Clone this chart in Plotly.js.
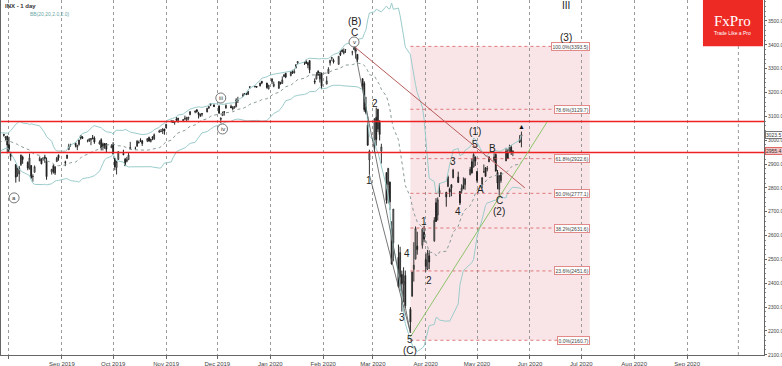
<!DOCTYPE html>
<html><head><meta charset="utf-8">
<script src="https://cdn.plot.ly/plotly-3.0.1.min.js"></script>
<style>html,body{margin:0;padding:0;background:#fff;}#chart{width:782px;height:366px;}</style>
</head><body><div id="chart"></div>
<script>
// ---- Data (INX daily) ----
const dates = [
'2019-06-28',
'2019-07-01','2019-07-02','2019-07-03','2019-07-05','2019-07-08','2019-07-09','2019-07-10','2019-07-11','2019-07-12','2019-07-15','2019-07-16','2019-07-17','2019-07-18','2019-07-19','2019-07-22','2019-07-23','2019-07-24','2019-07-25','2019-07-26','2019-07-29','2019-07-30','2019-07-31',
'2019-08-01','2019-08-02','2019-08-05','2019-08-06','2019-08-07','2019-08-08','2019-08-09','2019-08-12','2019-08-13','2019-08-14','2019-08-15','2019-08-16','2019-08-19','2019-08-20','2019-08-21','2019-08-22','2019-08-23','2019-08-26','2019-08-27','2019-08-28','2019-08-29','2019-08-30',
'2019-09-03','2019-09-04','2019-09-05','2019-09-06','2019-09-09','2019-09-10','2019-09-11','2019-09-12','2019-09-13','2019-09-16','2019-09-17','2019-09-18','2019-09-19','2019-09-20','2019-09-23','2019-09-24','2019-09-25','2019-09-26','2019-09-27','2019-09-30',
'2019-10-01','2019-10-02','2019-10-03','2019-10-04','2019-10-07','2019-10-08','2019-10-09','2019-10-10','2019-10-11','2019-10-14','2019-10-15','2019-10-16','2019-10-17','2019-10-18','2019-10-21','2019-10-22','2019-10-23','2019-10-24','2019-10-25','2019-10-28','2019-10-29','2019-10-30','2019-10-31',
'2019-11-01','2019-11-04','2019-11-05','2019-11-06','2019-11-07','2019-11-08','2019-11-11','2019-11-12','2019-11-13','2019-11-14','2019-11-15','2019-11-18','2019-11-19','2019-11-20','2019-11-21','2019-11-22','2019-11-25','2019-11-26','2019-11-27','2019-11-29',
'2019-12-02','2019-12-03','2019-12-04','2019-12-05','2019-12-06','2019-12-09','2019-12-10','2019-12-11','2019-12-12','2019-12-13','2019-12-16','2019-12-17','2019-12-18','2019-12-19','2019-12-20','2019-12-23','2019-12-24','2019-12-26','2019-12-27','2019-12-30','2019-12-31',
'2020-01-02','2020-01-03','2020-01-06','2020-01-07','2020-01-08','2020-01-09','2020-01-10','2020-01-13','2020-01-14','2020-01-15','2020-01-16','2020-01-17','2020-01-21','2020-01-22','2020-01-23','2020-01-24','2020-01-27','2020-01-28','2020-01-29','2020-01-30','2020-01-31',
'2020-02-03','2020-02-04','2020-02-05','2020-02-06','2020-02-07','2020-02-10','2020-02-11','2020-02-12','2020-02-13','2020-02-14','2020-02-18','2020-02-19','2020-02-20','2020-02-21','2020-02-24','2020-02-25','2020-02-26','2020-02-27','2020-02-28',
'2020-03-02','2020-03-03','2020-03-04','2020-03-05','2020-03-06','2020-03-09','2020-03-10','2020-03-11','2020-03-12','2020-03-13','2020-03-16','2020-03-17','2020-03-18','2020-03-19','2020-03-20','2020-03-23','2020-03-24','2020-03-25','2020-03-26','2020-03-27','2020-03-30','2020-03-31',
'2020-04-01','2020-04-02','2020-04-03','2020-04-06','2020-04-07','2020-04-08','2020-04-09','2020-04-13','2020-04-14','2020-04-15','2020-04-16','2020-04-17','2020-04-20','2020-04-21','2020-04-22','2020-04-23','2020-04-24','2020-04-27','2020-04-28','2020-04-29','2020-04-30',
'2020-05-01','2020-05-04','2020-05-05','2020-05-06','2020-05-07','2020-05-08','2020-05-11','2020-05-12','2020-05-13','2020-05-14','2020-05-15','2020-05-18','2020-05-19','2020-05-20','2020-05-21','2020-05-22','2020-05-26','2020-05-27'
];
const open = [
2932, 2971,2965,2978,2984,2979,2966,2990,2999,3003,3018,3012,3006,2978,3004,2982,2995,2999,3016,3013,3024,3008,3017,
2981,2943,2898,2862,2858,2897,2930,2907,2880,2894,2847,2865,2913,2920,2922,2930,2912,2866,2893,2862,2910,2937,
2909,2924,2960,2980,2989,2971,2982,3019,3013,2997,2996,3002,3010,3009,2984,3002,2969,2986,2985,2968,
2984,2925,2885,2919,2945,2920,2911,2918,2964,2966,2974,2990,3001,2997,2997,3011,2994,3014,3004,3033,3036,3039,3047,
3051,3078,3080,3075,3088,3082,3081,3090,3084,3091,3107,3118,3128,3114,3109,3112,3118,3135,3146,3148,
3144,3087,3103,3120,3134,3141,3136,3135,3141,3167,3183,3195,3196,3192,3224,3227,3225,3227,3247,3240,3215,
3245,3226,3218,3242,3238,3267,3281,3271,3285,3282,3303,3324,3321,3330,3315,3334,3248,3256,3289,3256,3282,
3235,3280,3324,3344,3335,3318,3366,3370,3365,3378,3369,3380,3380,3360,3258,3238,3139,3063,2917,
2975,3096,3046,3075,2954,2864,2814,2825,2630,2569,2509,2426,2437,2394,2432,2291,2345,2458,2501,2556,2559,2614,
2499,2459,2515,2578,2738,2686,2776,2782,2805,2796,2813,2842,2846,2785,2788,2810,2813,2855,2910,2887,2930,
2869,2815,2868,2884,2879,2909,2915,2940,2865,2794,2830,2913,2948,2953,2970,2948,3004,3016
];
const high = [
2943, 2978,2973,2996,2994,2981,2981,3003,3003,3014,3018,3016,3006,2999,3006,2990,3005,3020,3017,3028,3027,3017,3018,
3014,2945,2898,2885,2892,2939,2935,2911,2944,2894,2857,2894,2932,2924,2928,2939,2927,2879,2899,2891,2930,2940,
2914,2938,2985,2985,2989,2980,3001,3022,3017,3003,3006,3008,3022,3016,2999,3008,2990,2987,2988,2983,
2992,2925,2911,2953,2960,2926,2930,2948,2993,2973,3000,2998,3008,3001,3007,3015,3005,3016,3028,3044,3047,3050,3047,
3067,3085,3084,3078,3097,3093,3088,3103,3098,3097,3121,3124,3128,3119,3111,3113,3134,3142,3154,3150,
3144,3095,3120,3120,3150,3149,3143,3143,3176,3182,3197,3198,3199,3206,3226,3227,3226,3240,3248,3240,3231,
3258,3246,3247,3245,3267,3275,3283,3288,3295,3298,3317,3330,3329,3338,3326,3334,3259,3285,3293,3286,3282,
3268,3306,3337,3348,3342,3352,3376,3381,3385,3380,3375,3393.5,3389,3361,3260,3247,3182,3098,2960,
3091,3137,3131,3084,2985,2864,2883,2825,2660,2711,2562,2553,2453,2467,2453,2300,2449,2572,2638,2616,2632,2641,
2522,2540,2538,2677,2757,2760,2819,2782,2852,2801,2815,2880,2868,2786,2815,2844,2842,2888,2922,2945,2931,
2869,2844,2898,2887,2892,2932,2945,2945,2875,2852,2865,2968,2964,2981,2979,2957,3021,3036
];
const low = [
2929, 2952,2955,2976,2967,2966,2964,2984,2986,3002,3010,3003,2984,2975,2975,2976,2988,2996,2997,3013,3015,3000,2945,
2946,2914,2822,2847,2826,2892,2901,2874,2877,2839,2826,2865,2913,2899,2914,2905,2834,2856,2860,2854,2910,2914,
2891,2921,2960,2973,2970,2958,2977,3002,3005,2991,2993,2979,3003,2985,2982,2957,2957,2964,2946,2968,
2938,2874,2856,2918,2937,2893,2907,2917,2964,2960,2974,2986,2992,2976,2992,2995,2991,3000,3002,3032,3034,3026,3023,
3051,3074,3072,3065,3080,3073,3076,3084,3078,3083,3105,3113,3115,3091,3097,3100,3118,3131,3143,3139,
3110,3071,3103,3103,3134,3135,3125,3133,3138,3156,3183,3191,3191,3191,3216,3222,3220,3227,3235,3216,3213,
3235,3222,3215,3233,3236,3264,3260,3268,3278,3280,3302,3318,3316,3320,3302,3281,3235,3256,3271,3242,3214,
3235,3280,3313,3333,3322,3317,3353,3369,3360,3366,3356,3379,3342,3328,3215,3119,3108,2977,2855,
2946,2977,3034,2999,2902,2734,2735,2708,2478,2492,2381,2367,2281,2320,2296,2192,2345,2407,2501,2520,2545,2572,
2448,2455,2459,2574,2657,2663,2762,2721,2805,2761,2765,2842,2821,2728,2776,2794,2792,2853,2860,2887,2892,
2822,2798,2862,2848,2869,2909,2909,2870,2794,2767,2821,2913,2922,2953,2938,2933,2988,2970
];
const close = [
2942, 2964,2973,2996,2990,2976,2980,2993,3000,3014,3014,3004,2984,2995,2977,2985,3005,3020,3004,3026,3021,3013,2980,
2954,2932,2845,2882,2884,2938,2919,2883,2926,2841,2848,2889,2924,2901,2924,2923,2847,2878,2869,2888,2925,2926,
2906,2938,2976,2979,2978,2979,3001,3010,3007,2998,3006,3007,3007,2992,2992,2967,2985,2978,2962,2977,
2940,2888,2911,2952,2939,2893,2919,2938,2970,2966,2996,2990,2998,2986,3007,2996,3005,3010,3023,3039,3037,3047,3038,
3067,3078,3075,3077,3085,3093,3087,3092,3094,3097,3120,3122,3120,3108,3104,3110,3134,3141,3154,3141,
3114,3093,3113,3117,3146,3136,3133,3142,3169,3169,3191,3193,3191,3205,3221,3224,3223,3240,3240,3221,3231,
3258,3235,3246,3237,3253,3275,3265,3288,3283,3289,3317,3330,3321,3322,3326,3295,3244,3276,3273,3284,3226,
3249,3298,3335,3346,3328,3352,3358,3379,3374,3380,3370,3386,3373,3338,3226,3128,3116,2979,2954,
3090,3003,3130,3024,2972,2747,2882,2741,2481,2711,2386,2529,2398,2409,2305,2237,2447,2476,2630,2541,2627,2585,
2471,2527,2489,2664,2659,2750,2790,2762,2846,2783,2800,2875,2823,2737,2799,2798,2837,2878,2863,2940,2912,
2831,2843,2868,2848,2881,2930,2930,2870,2820,2852,2864,2954,2923,2972,2949,2955,2992,3023.5
];
// Month ticks shown on the time axis
const monthTicks = ['2019-08-01','2019-09-01','2019-10-01','2019-11-01','2019-12-01','2020-01-01','2020-02-01','2020-03-01','2020-04-01','2020-05-01','2020-06-01','2020-07-01','2020-08-01','2020-09-01'];
const monthLabels = ['Aug 2019','Sep 2019','Oct 2019','Nov 2019','Dec 2019','Jan 2020','Feb 2020','Mar 2020','Apr 2020','May 2020','Jun 2020','Jul 2020','Aug 2020','Sep 2020'];
// Fibonacci retracement levels (labels as read)
const fibPct = ['100.0%','78.6%','61.8%','50.0%','38.2%','23.6%','0.0%'];
const fibVal = [3393.5, 3129.7, 2922.6, 2777.1, 2631.6, 2451.6, 2160.7];
// Horizontal resistance/support lines
const hLevels = [3078, 2948];
// Right-axis price tags
const tagVals = [3023.5, 2955.4];
// Elliott wave labels: text, date, price
const waveText  = ['(B)','C','2','1','3','4','5','(C)','1','2','3','4','5','(1)','A','B','C','(2)','(3)','III'];
const waveDate  = ['2020-02-19','2020-02-19','2020-03-02','2020-02-28','2020-03-18','2020-03-21','2020-03-23','2020-03-23','2020-03-31','2020-04-03','2020-04-17','2020-04-20','2020-04-30','2020-04-30','2020-05-03','2020-05-10','2020-05-14','2020-05-14','2020-06-22','2020-06-22'];
const wavePrice = [3496,3450,3156,2833,2255,2523,2166,2116,2657,2410,2909,2703,2984,3037,2795,2967,2749,2699,3429,3565];
// circled minor-degree labels
const circText  = ['v','iii','iv','a'];
const circDate  = ['2020-02-19','2019-12-03','2019-12-04','2019-08-04'];
const circPrice = [3412,3177,3047,2758];

if ([open,high,low,close].some(a => a.length !== dates.length)) console.error('length mismatch', dates.length, open.length, high.length, low.length, close.length);

// Bollinger bands (20, 2.0) computed from the closes, as the original indicator does
function bollinger(c, n, k) {
  const mid = [], up = [], lo = [];
  for (let i = 0; i < c.length; i++) {
    if (i < n - 1) { mid.push(null); up.push(null); lo.push(null); continue; }
    let s = 0; for (let j = i - n + 1; j <= i; j++) s += c[j];
    const m = s / n;
    let v = 0; for (let j = i - n + 1; j <= i; j++) v += (c[j] - m) * (c[j] - m);
    const sd = Math.sqrt(v / n);
    mid.push(m); up.push(m + k * sd); lo.push(m - k * sd);
  }
  return {mid, up, lo};
}
const bb = bollinger(close, 20, 2);

const traces = [
  {type:'scatter', mode:'lines', x:dates, y:bb.up, line:{color:'#9ccccc', width:1}, hoverinfo:'skip'},
  {type:'scatter', mode:'lines', x:dates, y:bb.lo, line:{color:'#9ccccc', width:1}, hoverinfo:'skip'},
  {type:'scatter', mode:'lines', x:dates, y:bb.mid, line:{color:'#8a9a9a', width:1, dash:'dot'}, hoverinfo:'skip'},
  {type:'candlestick', x:dates, open:open, high:high, low:low, close:close, whiskerwidth:0,
   increasing:{line:{color:'#333', width:1}, fillcolor:'#ffffff'},
   decreasing:{line:{color:'#222', width:1}, fillcolor:'#000000'}, hoverinfo:'skip'}
];

const FONT = 'Liberation Sans, Arial, sans-serif';
const shapes = [];
const annotations = [];

// October 2020 grid line (no label in the reference)
shapes.push({type:'line', xref:'x', yref:'paper', x0:'2020-10-01', x1:'2020-10-01', y0:0, y1:1, line:{color:'#9a9a9a', width:1, dash:'dot'}, layer:'below'});

// Fibonacci box
shapes.push({type:'rect', xref:'x', yref:'y', x0:'2020-03-23', x1:'2020-07-06', y0:fibVal[fibVal.length-1], y1:fibVal[0],
  fillcolor:'rgba(232,150,158,0.25)', line:{width:0}, layer:'below'});
fibVal.forEach((v, i) => {
  shapes.push({type:'line', xref:'x', yref:'y', x0:'2020-03-23', x1:'2020-06-19', y0:v, y1:v,
    line:{color:'rgba(215,80,80,0.75)', width:1, dash:'dot'}});
  annotations.push({xref:'x', yref:'y', x:'2020-07-06', y:v, xanchor:'right', yanchor:'middle', showarrow:false,
    text:fibPct[i] + '(' + v.toFixed(1) + ')', font:{family:FONT, size:5, color:'#444'},
    bgcolor:'#fff', bordercolor:'#e28a8a', borderwidth:1, borderpad:0.5});
});
// Horizontal red lines
hLevels.forEach(v => shapes.push({type:'line', xref:'paper', yref:'y', x0:0, x1:1, y0:v, y1:v, line:{color:'#ee2222', width:1.5}}));
// Trend lines
shapes.push({type:'line', xref:'x', yref:'y', x0:'2020-02-19', y0:3393.5, x1:'2020-05-29', y1:2800, line:{color:'#b85a5a', width:1}});
shapes.push({type:'line', xref:'x', yref:'y', x0:'2020-03-23', y0:2175, x1:'2020-06-11', y1:3076, line:{color:'#8cc46a', width:1}});
shapes.push({type:'line', xref:'x', yref:'y', x0:'2020-02-19', y0:3393.5, x1:'2020-03-23', y1:2192, line:{color:'#555', width:0.8}});
shapes.push({type:'line', xref:'x', yref:'y', x0:'2020-02-28', y0:2855, x1:'2020-03-23', y1:2192, line:{color:'#555', width:0.8}});

// Wave labels
waveText.forEach((t, i) => annotations.push({xref:'x', yref:'y', x:waveDate[i], y:wavePrice[i], text:t, showarrow:false,
  xanchor:'center', yanchor:'middle', font:{family:FONT, size:10, color:'#222'}}));
// Circled labels
circText.forEach((t, i) => {
  shapes.push({type:'circle', xref:'x', yref:'y', xsizemode:'pixel', ysizemode:'pixel', xanchor:circDate[i], yanchor:circPrice[i],
    x0:-5, x1:5, y0:-5, y1:5, line:{color:'#555', width:0.8}, fillcolor:'#fff'});
  annotations.push({xref:'x', yref:'y', x:circDate[i], y:circPrice[i], text:t, showarrow:false, xanchor:'center', yanchor:'middle',
    font:{family:FONT, size:6, color:'#333'}});
});
// last-bar arrow
annotations.push({xref:'x', yref:'y', x:'2020-05-27', y:3058, text:'▲', showarrow:false, xanchor:'center', yanchor:'middle',
  font:{family:FONT, size:7, color:'#111'}});

// price tags on right axis
annotations.push({xref:'paper', yref:'y', x:1, y:tagVals[0], xanchor:'left', yanchor:'middle', xshift:1, showarrow:false,
  text:tagVals[0].toFixed(1), font:{family:FONT, size:5, color:'#333'}, bgcolor:'#fff', bordercolor:'#777', borderwidth:1, borderpad:0});
annotations.push({xref:'paper', yref:'y', x:1, y:tagVals[1], xanchor:'left', yanchor:'middle', xshift:1, showarrow:false,
  text:tagVals[1].toFixed(1), font:{family:FONT, size:5, color:'#333'}, bgcolor:'#f2c4c4', bordercolor:'#d66', borderwidth:1, borderpad:0});

// titles top-left
annotations.push({xref:'paper', yref:'paper', x:0.002, y:1, xanchor:'left', yanchor:'top', yshift:-1, showarrow:false,
  text:'<b>INX - 1 day</b>', font:{family:FONT, size:6, color:'#333'}});
annotations.push({xref:'paper', yref:'paper', x:0.036, y:1, xanchor:'left', yanchor:'top', yshift:-9, showarrow:false,
  text:'BB(20,20,2.0,2.0)', font:{family:FONT, size:5, color:'#6aa8a8'}});

// FxPro logo
shapes.push({type:'rect', xref:'paper', yref:'paper', x0:0.920, x1:0.9987, y0:0.870, y1:1.0, fillcolor:'#ee2a24', line:{width:0}});
annotations.push({xref:'paper', yref:'paper', x:0.959, y:1, xanchor:'center', yanchor:'middle', yshift:-21, showarrow:false,
  text:'FxPro', font:{family:'Liberation Serif, Times New Roman, serif', size:15, color:'#fff'}});
annotations.push({xref:'paper', yref:'paper', x:0.959, y:1, xanchor:'center', yanchor:'middle', yshift:-33, showarrow:false,
  text:'Trade Like a Pro', font:{family:FONT, size:5, color:'#fff'}});

const layout = {
  width:782, height:366,
  margin:{l:1, r:18, t:0, b:11, pad:0},
  paper_bgcolor:'#fff', plot_bgcolor:'#fff',
  showlegend:false,
  font:{family:FONT, size:5, color:'#444'},
  xaxis:{type:'date', range:['2019-07-27 08:00','2020-10-16'], tickmode:'array', tickvals:monthTicks, ticktext:monthLabels,
    showgrid:true, gridcolor:'#9a9a9a', griddash:'dot', gridwidth:1, ticks:'outside', ticklen:3, tickcolor:'#666',
    showline:true, linecolor:'#666', linewidth:1, mirror:false, zeroline:false,
    tickfont:{family:FONT, size:6, color:'#444'}, rangeslider:{visible:false}, fixedrange:true},
  yaxis:{side:'right', range:[2099, 3588], dtick:100, tick0:2200, tickformat:'.1f', showgrid:false,
    ticks:'outside', ticklen:2, tickcolor:'#666', showline:true, linecolor:'#666', linewidth:1, mirror:true, zeroline:false,
    minor:{ticks:'outside', ticklen:1, dtick:20, tickcolor:'#888', showgrid:false},
    tickfont:{family:FONT, size:5, color:'#444'}, fixedrange:true},
  shapes:shapes, annotations:annotations
};
Plotly.newPlot('chart', traces, layout, {staticPlot:true, displayModeBar:false});
</script>
</body></html>
